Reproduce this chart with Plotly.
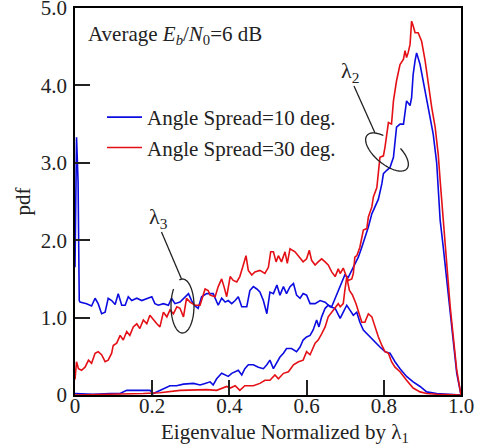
import numpy as np
import plotly.graph_objects as go

# ---------------- data ----------------
# Blue, angle spread 10 deg, lambda_3
b3_x = [0, 0.004, 0.008, 0.011, 0.013, 0.030, 0.043, 0.052, 0.060, 0.069, 0.078, 0.086, 0.095, 0.104,
        0.112, 0.121, 0.130, 0.138, 0.147, 0.160, 0.173, 0.186, 0.199, 0.207, 0.216, 0.229, 0.242, 0.250,
        0.259, 0.272, 0.285, 0.294, 0.302, 0.311, 0.319, 0.328, 0.341, 0.358, 0.371, 0.380, 0.389, 0.397,
        0.406, 0.415, 0.423, 0.432, 0.445, 0.453, 0.462, 0.471, 0.479, 0.488, 0.497, 0.505, 0.514, 0.523,
        0.531, 0.540, 0.548, 0.557, 0.566, 0.574, 0.583, 0.591, 0.600, 0.609, 0.622, 0.635, 0.648, 0.661,
        0.674, 0.687, 0.695, 0.704, 0.712, 0.721, 0.730, 0.738, 0.747, 0.760, 0.773, 0.790, 0.803, 0.816,
        0.829, 0.842, 0.859, 0.876, 0.894, 0.911, 0.937, 0.963, 1.0]
b3_y = [1.65, 3.33, 2.75, 1.22, 1.20, 1.18, 1.15, 1.25, 1.18, 1.05, 1.07, 1.25, 1.22, 1.17,
        1.31, 1.16, 1.16, 1.27, 1.22, 1.25, 1.22, 1.25, 1.27, 1.18, 1.16, 1.18, 1.16, 1.25,
        1.18, 1.20, 1.27, 1.31, 1.22, 1.15, 1.12, 1.27, 1.31, 1.31, 1.16, 1.25, 1.20, 1.22,
        1.18, 1.22, 1.27, 1.14, 1.14, 1.35, 1.40, 1.37, 1.33, 1.22, 1.05, 1.33, 1.31, 1.42,
        1.29, 1.40, 1.31, 1.40, 1.44, 1.29, 1.25, 1.31, 1.29, 1.18, 1.18, 1.22, 1.20, 1.14,
        1.12, 0.99, 1.07, 1.16, 1.10, 1.03, 1.07, 0.94, 0.84, 0.77, 0.71, 0.62, 0.56, 0.54,
        0.43, 0.34, 0.24, 0.17, 0.11, 0.04, 0.02, 0.01, 0.0]

# Red, angle spread 30 deg, lambda_3
r3_x = [0, 0.004, 0.009, 0.017, 0.026, 0.035, 0.043, 0.052, 0.060, 0.069, 0.078, 0.086, 0.095, 0.099,
        0.108, 0.117, 0.125, 0.134, 0.142, 0.151, 0.160, 0.168, 0.177, 0.186, 0.194, 0.203, 0.212, 0.220,
        0.229, 0.238, 0.246, 0.255, 0.264, 0.272, 0.281, 0.289, 0.298, 0.311, 0.324, 0.337, 0.345, 0.350,
        0.363, 0.371, 0.380, 0.386, 0.393, 0.402, 0.410, 0.419, 0.427, 0.436, 0.443, 0.449, 0.458, 0.466,
        0.479, 0.492, 0.501, 0.507, 0.514, 0.521, 0.527, 0.535, 0.544, 0.550, 0.557, 0.570, 0.583, 0.591,
        0.600, 0.607, 0.613, 0.622, 0.630, 0.639, 0.648, 0.656, 0.665, 0.674, 0.682, 0.687, 0.695, 0.704,
        0.711, 0.719, 0.728, 0.737, 0.743, 0.751, 0.760, 0.769, 0.777, 0.786, 0.795, 0.803, 0.812, 0.820,
        0.829, 0.842, 0.859, 0.876, 0.894, 0.911, 0.937, 1.0]
r3_y = [0.20, 0.43, 0.34, 0.32, 0.36, 0.45, 0.41, 0.54, 0.56, 0.52, 0.43, 0.45, 0.54, 0.64,
        0.67, 0.77, 0.71, 0.82, 0.77, 0.88, 0.92, 0.86, 0.97, 0.92, 1.03, 0.97, 0.92, 0.88,
        1.07, 1.01, 1.10, 1.05, 1.14, 1.12, 1.01, 1.25, 1.20, 1.16, 1.16, 1.37, 1.35, 1.29,
        1.27, 1.40, 1.50, 1.40, 1.27, 1.53, 1.48, 1.46, 1.53, 1.68, 1.80, 1.61, 1.55, 1.59,
        1.61, 1.57, 1.65, 1.85, 1.85, 1.72, 1.80, 1.72, 1.85, 1.70, 1.89, 1.85, 1.76, 1.72,
        1.76, 1.87, 1.74, 1.68, 1.72, 1.76, 1.72, 1.68, 1.59, 1.53, 1.63, 1.57, 1.64, 1.52,
        1.35, 1.29, 1.18, 1.05, 0.94, 0.94, 1.05, 1.01, 0.88, 0.75, 0.64, 0.56, 0.54, 0.43,
        0.36, 0.30, 0.19, 0.09, 0.04, 0.02, 0.01, 0.0]

# Blue, angle spread 10 deg, lambda_2
b2_x = [0, 0.047, 0.091, 0.117, 0.134, 0.160, 0.194, 0.203, 0.220, 0.246, 0.263, 0.281, 0.307, 0.324,
        0.337, 0.350, 0.358, 0.367, 0.380, 0.389, 0.397, 0.406, 0.415, 0.423, 0.432, 0.440, 0.449, 0.462,
        0.475, 0.488, 0.497, 0.505, 0.514, 0.523, 0.531, 0.540, 0.548, 0.561, 0.574, 0.583, 0.591, 0.600,
        0.609, 0.617, 0.626, 0.632, 0.639, 0.648, 0.656, 0.665, 0.674, 0.682, 0.690, 0.699, 0.708, 0.717,
        0.725, 0.734, 0.743, 0.751, 0.760, 0.769, 0.777, 0.786, 0.795, 0.799, 0.807, 0.816, 0.825, 0.829,
        0.833, 0.842, 0.851, 0.859, 0.868, 0.872, 0.876, 0.881, 0.885, 0.894, 0.902, 0.911, 0.920, 0.928,
        0.937, 0.946, 0.954, 0.963, 0.972, 0.980, 0.989, 1.0]
b2_y = [0.02, 0.01, 0.02, 0.02, 0.06, 0.06, 0.06, 0.02, 0.06, 0.12, 0.12, 0.14, 0.15, 0.13,
        0.15, 0.17, 0.13, 0.21, 0.28, 0.26, 0.24, 0.28, 0.30, 0.32, 0.26, 0.34, 0.39, 0.39,
        0.36, 0.34, 0.39, 0.45, 0.34, 0.43, 0.49, 0.54, 0.60, 0.60, 0.56, 0.62, 0.71, 0.75,
        0.77, 0.84, 0.97, 0.88, 1.01, 1.12, 1.16, 1.14, 1.25, 1.35, 1.45, 1.55, 1.52, 1.61,
        1.70, 1.78, 1.91, 2.02, 2.17, 2.34, 2.43, 2.53, 2.73, 2.86, 2.90, 2.94, 3.07, 3.29,
        3.46, 3.50, 3.50, 3.80, 3.74, 3.84, 4.14, 4.32, 4.42, 4.27, 4.06, 3.84, 3.63, 3.37,
        3.00, 2.26, 1.91, 1.48, 1.05, 0.62, 0.28, 0.0]

# Red, angle spread 30 deg, lambda_2
r2_x = [0, 0.134, 0.177, 0.220, 0.272, 0.341, 0.367, 0.393, 0.402, 0.415, 0.427, 0.440, 0.462, 0.479,
        0.492, 0.505, 0.518, 0.527, 0.540, 0.553, 0.566, 0.579, 0.591, 0.600, 0.609, 0.622, 0.630, 0.639,
        0.648, 0.656, 0.665, 0.674, 0.682, 0.687, 0.695, 0.699, 0.704, 0.708, 0.717, 0.721, 0.725, 0.730,
        0.738, 0.747, 0.756, 0.760, 0.769, 0.773, 0.782, 0.790, 0.799, 0.803, 0.807, 0.812, 0.820, 0.825,
        0.833, 0.842, 0.851, 0.855, 0.859, 0.863, 0.868, 0.872, 0.876, 0.881, 0.889, 0.898, 0.907, 0.915,
        0.924, 0.933, 0.941, 0.946, 0.954, 0.963, 0.972, 0.980, 0.989, 1.0]
r2_y = [0.0, 0.01, 0.02, 0.03, 0.06, 0.07, 0.06, 0.11, 0.09, 0.12, 0.06, 0.12, 0.12, 0.15,
        0.19, 0.19, 0.26, 0.21, 0.28, 0.30, 0.39, 0.43, 0.45, 0.56, 0.52, 0.67, 0.71, 0.79,
        0.88, 1.01, 1.07, 1.12, 1.18, 1.14, 1.18, 1.35, 1.52, 1.48, 1.50, 1.57, 1.78, 1.80,
        1.91, 2.13, 2.15, 2.30, 2.43, 2.56, 2.68, 3.07, 3.09, 3.20, 3.37, 3.52, 3.50, 3.80,
        4.06, 4.27, 4.34, 4.45, 4.36, 4.42, 4.53, 4.83, 4.77, 4.68, 4.68, 4.57, 4.32, 4.01,
        3.72, 3.46, 3.11, 2.77, 2.21, 1.70, 1.14, 0.71, 0.32, 0.0]

x_ticks = [0, 0.2, 0.4, 0.6, 0.8, 1.0]
x_tick_text = ["0", "0.2", "0.4", "0.6", "0.8", "1.0"]
y_ticks = [0, 1, 2, 3, 4, 5]
y_tick_text = ["0", "1.0", "2.0", "3.0", "4.0", "5.0"]
series_names = ["Angle Spread=10 deg.", "Angle Spread=30 deg."]

# ---------------- styling / layout ----------------
BLUE = "rgb(12,12,225)"
RED = "rgb(228,16,22)"
INK = "#222222"
FONT = "Liberation Serif"
FS = 21
W, H = 486, 445
ML, MR, MT, MB = 75, 25, 8, 50
PW, PH = W - ML - MR, H - MT - MB
XR, YR = [0, 1], [0, 5]


def px2x(px):
    return XR[0] + (px - ML) / PW * (XR[1] - XR[0])


def py2y(py):
    return YR[0] + (MT + PH - py) / PH * (YR[1] - YR[0])


def py2paper(py):
    return (MT + PH - py) / PH


def ellipse_path(cx, cy, a, b, phi_deg, t0, t1):
    t = np.radians(np.linspace(t0, t1, 80))
    phi = np.radians(phi_deg)
    ux, uy = np.cos(phi), np.sin(phi)
    vx, vy = -np.sin(phi), np.cos(phi)
    pxs = cx + a * np.cos(t) * ux + b * np.sin(t) * vx
    pys = cy + a * np.cos(t) * uy + b * np.sin(t) * vy
    pts = [f"{px2x(p):.5f},{py2y(q):.5f}" for p, q in zip(pxs, pys)]
    return "M" + " L".join(pts)


fig = go.Figure()
fig.add_trace(go.Scatter(x=b3_x, y=b3_y, mode="lines", line=dict(color=BLUE, width=1.6),
                         name=series_names[0], legendgroup="b", showlegend=True))
fig.add_trace(go.Scatter(x=b2_x, y=b2_y, mode="lines", line=dict(color=BLUE, width=1.6),
                         name=series_names[0], legendgroup="b", showlegend=False))
fig.add_trace(go.Scatter(x=r3_x, y=r3_y, mode="lines", line=dict(color=RED, width=1.6),
                         name=series_names[1], legendgroup="r", showlegend=True))
fig.add_trace(go.Scatter(x=r2_x, y=r2_y, mode="lines", line=dict(color=RED, width=1.6),
                         name=series_names[1], legendgroup="r", showlegend=False))

shapes = [
    dict(type="path", xref="x", yref="y",
         path=ellipse_path(387, 152, 26, 12, 40, -72, 239), line=dict(color=INK, width=1.3)),
    dict(type="path", xref="x", yref="y",
         path=ellipse_path(182.5, 306, 27, 11.5, 90, 164, 489), line=dict(color=INK, width=1.3)),
    dict(type="line", xref="x", yref="y", x0=px2x(354), y0=py2y(86), x1=px2x(375), y1=py2y(133),
         line=dict(color=INK, width=1.3)),
    dict(type="line", xref="x", yref="y", x0=px2x(161.5), y0=py2y(232), x1=px2x(181.5), y1=py2y(279),
         line=dict(color=INK, width=1.3)),
]

annotations = [
    dict(text="Average <i>E</i><sub><i>b</i></sub>/<i>N</i><sub>0</sub>=6 dB", xref="paper", yref="paper",
         x=px2x(86), y=py2paper(35), xanchor="left", yanchor="middle", showarrow=False,
         font=dict(family=FONT, size=FS, color=INK)),
    dict(text="λ<sub>2</sub>", xref="x", yref="y", x=px2x(350), y=py2y(72), showarrow=False,
         xanchor="center", yanchor="middle", font=dict(family=FONT, size=22, color=INK)),
    dict(text="λ<sub>3</sub>", xref="x", yref="y", x=px2x(158), y=py2y(218), showarrow=False,
         xanchor="center", yanchor="middle", font=dict(family=FONT, size=22, color=INK)),
    dict(text="Eigenvalue Normalized by λ<sub>1</sub>", xref="paper", yref="paper",
         x=(285 - ML) / PW, y=py2paper(433), xanchor="center", yanchor="middle",
         showarrow=False, font=dict(family=FONT, size=FS, color=INK)),
    dict(text="pdf", xref="paper", yref="paper", x=(22 - ML) / PW, y=0.5, textangle=-90,
         xanchor="center", yanchor="middle", showarrow=False, font=dict(family=FONT, size=FS, color=INK)),
]

axis_common = dict(showgrid=False, zeroline=False, showline=True, linecolor="black", linewidth=1.5,
                   mirror=True, ticks="inside", ticklen=15, tickwidth=1.5, tickcolor=INK,
                   automargin=False, ticklabeloverflow="allow",
                   tickfont=dict(family=FONT, size=FS, color=INK))

fig.update_layout(
    width=W, height=H, margin=dict(l=ML, r=MR, t=MT, b=MB, autoexpand=False),
    paper_bgcolor="white", plot_bgcolor="white",
    xaxis=dict(range=XR, tickvals=x_ticks, ticktext=x_tick_text, ticklabelstandoff=-9, **axis_common),
    yaxis=dict(range=YR, tickvals=y_ticks, ticktext=y_tick_text, ticklabelstandoff=2, **axis_common),
    shapes=shapes, annotations=annotations,
    legend=dict(x=(102 - ML) / PW, y=py2paper(97), xanchor="left", yanchor="top",
                bgcolor="rgba(0,0,0,0)", borderwidth=0, itemwidth=35, tracegroupgap=0,
                font=dict(family=FONT, size=FS, color=INK)),
    showlegend=True,
)

fig.write_html("out.html", config={"displayModeBar": False},
               post_script="document.body.style.margin='0';document.body.style.padding='0';")
